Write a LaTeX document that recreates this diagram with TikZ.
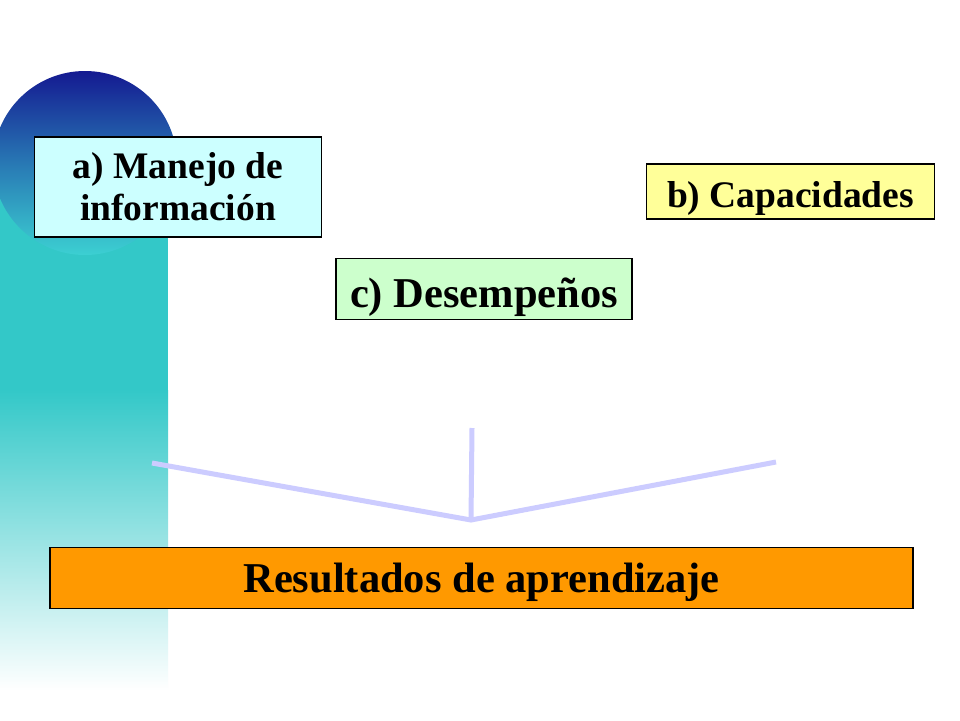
\documentclass[tikz,border=0pt]{standalone}
\usepackage{fontspec}
\setmainfont{Liberation Serif}
\definecolor{teal1}{RGB}{51,200,200}
\definecolor{navy1}{RGB}{20,26,145}
\definecolor{circbot}{RGB}{60,208,210}
\definecolor{circmid}{RGB}{40,120,180}
\definecolor{lineclr}{RGB}{204,204,255}
\definecolor{boxa}{RGB}{204,255,255}
\definecolor{boxb}{RGB}{255,255,153}
\definecolor{boxc}{RGB}{204,255,204}
\definecolor{boxr}{RGB}{255,153,0}
\tikzset{
  labelbox/.style={draw=black, line width=1.1pt, inner sep=0pt, align=center, font=\bfseries},
  connline/.style={draw=lineclr, line width=5pt},
}
\begin{document}
\begin{tikzpicture}[x=1pt,y=-1pt]
\useasboundingbox (0,0) rectangle (960,720);
\fill[white] (0,0) rectangle (960,720);
% left band
\fill[teal1] (0,163) rectangle (168,391);
\shade[top color=teal1, bottom color=white] (0,390) rectangle (168,690);
% circle
\shade[top color=navy1, bottom color=circbot, middle color=circmid] (85,163) circle[radius=92];
% connectors
\coordinate (jn) at (471,520);
\coordinate (lt) at (152,463);
\coordinate (rt) at (776,462);
\coordinate (mt) at (472,428);
\draw[connline] (lt) -- (jn) -- (rt);
\draw[connline] (mt) -- (jn);
% boxes
\node[labelbox, fill=boxa, minimum width=287pt, minimum height=100pt, font=\bfseries\fontsize{37.5}{42}\selectfont] (a) at (178,187) {a) Manejo de\\información};
\node[labelbox, fill=boxb, minimum width=288pt, minimum height=55pt, text height=31pt, text depth=0pt, font=\bfseries\fontsize{37.5}{40}\selectfont] (b) at (790.5,191.5) {b) Capacidades};
\node[labelbox, fill=boxc, minimum width=296pt, minimum height=61pt, text height=36pt, text depth=0pt, font=\bfseries\fontsize{42.5}{45}\selectfont] (c) at (484,289) {c) Desempeños};
\node[labelbox, fill=boxr, minimum width=863pt, minimum height=61pt, text height=28pt, text depth=0pt, font=\bfseries\fontsize{42.5}{45}\selectfont] (res) at (481.5,578) {Resultados de aprendizaje};
\end{tikzpicture}
\end{document}
